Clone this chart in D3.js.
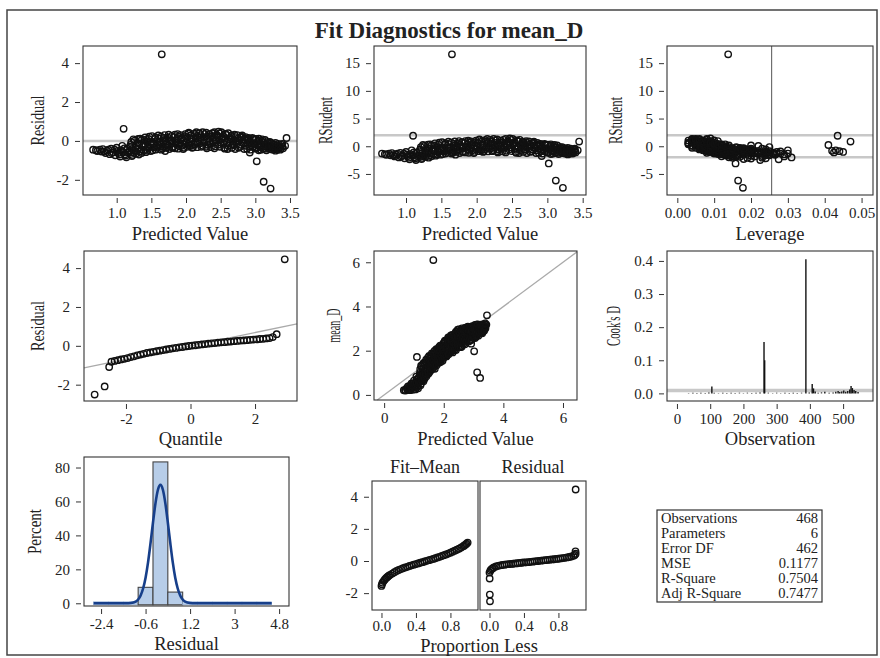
<!DOCTYPE html>
<html>
<head>
<meta charset="utf-8">
<script src="https://cdn.jsdelivr.net/npm/d3@7"></script>
<style>
  body { margin: 0; background: #fff; }
  text { font-family: "Liberation Serif", "DejaVu Serif", serif; fill: #222; }
  .tick text { font-size: 15px; }
  .tick line { stroke: #333; }
</style>
</head>
<body>
<script>
// ---- data ----
// one row per observation: predicted, residual, rstudent, leverage, mean_D
var obsRows = [
  [0.66,-0.45,-1.32,0.0300,0.21],[0.72,-0.52,-1.53,0.0265,0.20],[0.78,-0.55,-1.62,0.0240,0.23],
  [0.80,-0.42,-1.24,0.0180,0.38],[0.84,-0.62,-1.83,0.0290,0.22],[0.86,-0.50,-1.47,0.0150,0.36],
  [0.90,-0.68,-2.01,0.0310,0.22],[0.92,-0.40,-1.18,0.0120,0.52],[0.95,-0.58,-1.71,0.0200,0.37],
  [0.98,-0.74,-2.18,0.0240,0.24],[1.00,-0.35,-1.03,0.0090,0.65],[1.02,-0.62,-1.82,0.0160,0.40],
  [1.05,-0.80,-2.36,0.0275,0.25],[1.06,-0.48,-1.41,0.0110,0.58],[1.08,-0.25,-0.73,0.0070,0.83],
  [1.10,0.62,1.90,0.0435,1.72],[1.12,-0.68,-2.00,0.0140,0.44],[1.14,-0.84,-2.48,0.0225,0.30],
  [1.15,-0.40,-1.17,0.0080,0.75],[1.18,-0.55,-1.62,0.0130,0.63],[1.20,-0.20,-0.58,0.0060,1.00],
  [1.22,-0.78,-2.30,0.0180,0.44],[1.24,0.08,0.23,0.0050,1.32],[1.25,-0.62,-1.82,0.0120,0.63],
  [1.27,-0.35,-1.02,0.0090,0.92],[1.30,-0.10,-0.29,0.0040,1.20],[1.32,-0.70,-2.06,0.0150,0.62],
  [1.34,0.12,0.35,0.0030,1.46],[1.36,-0.45,-1.32,0.0100,0.91],[1.38,-0.22,-0.64,0.0070,1.16],
  [1.40,0.05,0.15,0.0050,1.45],[1.42,-0.58,-1.70,0.0140,0.84],[1.45,-0.30,-0.88,0.0080,1.15],
  [1.47,0.22,0.64,0.0030,1.69],[1.50,-0.12,-0.35,0.0060,1.38],[1.52,-0.48,-1.41,0.0120,1.04],
  [1.55,0.10,0.29,0.0050,1.65],[1.57,-0.25,-0.73,0.0090,1.32],[1.60,0.28,0.82,0.0040,1.88],
  [1.62,-0.05,-0.15,0.0070,1.57],[1.65,4.45,16.60,0.0138,6.10],[1.66,-0.40,-1.17,0.0110,1.26],
  [1.68,0.15,0.44,0.0060,1.83],[1.70,-0.52,-1.52,0.0165,1.18],[1.72,-0.18,-0.53,0.0080,1.54],
  [1.75,0.32,0.94,0.0040,2.07],[1.78,0.02,0.06,0.0100,1.80],[1.80,-0.35,-1.03,0.0130,1.45],
  [1.83,0.20,0.59,0.0070,2.03],[1.85,-0.10,-0.29,0.0050,1.75],[1.88,0.35,1.03,0.0030,2.23],
  [1.90,-0.28,-0.82,0.0120,1.62],[1.93,0.08,0.23,0.0090,2.01],[1.96,-0.42,-1.23,0.0155,1.54],
  [1.98,0.25,0.73,0.0060,2.23],[2.00,-0.05,-0.15,0.0080,1.95],[2.03,0.38,1.11,0.0050,2.41],
  [2.05,-0.22,-0.64,0.0140,1.83],[2.08,0.12,0.35,0.0070,2.20],[2.10,-0.32,-0.94,0.0170,1.78],
  [2.13,0.30,0.88,0.0090,2.43],[2.15,0.45,1.32,0.0080,2.60],[2.17,-0.10,-0.29,0.0110,2.07],
  [2.20,0.18,0.53,0.0060,2.38],[2.22,-0.30,-0.88,0.0190,1.92],[2.25,0.05,0.15,0.0100,2.30],
  [2.27,0.35,1.03,0.0070,2.62],[2.30,-0.38,-1.11,0.0200,1.92],[2.33,0.22,0.64,0.0050,2.55],
  [2.35,-0.15,-0.44,0.0130,2.20],[2.38,0.40,1.17,0.0080,2.78],[2.40,0.00,0.00,0.0100,2.40],
  [2.42,-0.28,-0.82,0.0160,2.14],[2.45,0.28,0.82,0.0060,2.73],[2.47,0.48,1.41,0.0090,2.95],
  [2.50,-0.08,-0.23,0.0120,2.42],[2.52,0.15,0.44,0.0070,2.67],[2.55,-0.35,-1.03,0.0180,2.20],
  [2.57,0.36,1.06,0.0100,2.93],[2.60,-0.42,-1.23,0.0210,2.18],[2.62,0.08,0.23,0.0080,2.70],
  [2.65,0.25,0.73,0.0050,2.90],[2.67,-0.18,-0.53,0.0150,2.49],[2.70,0.32,0.94,0.0110,3.02],
  [2.72,-0.05,-0.15,0.0090,2.67],[2.75,0.12,0.35,0.0130,2.87],[2.78,-0.30,-0.88,0.0170,2.48],
  [2.80,0.22,0.64,0.0100,3.02],[2.83,-0.12,-0.35,0.0140,2.71],[2.85,0.05,0.15,0.0200,2.90],
  [2.88,-0.40,-1.17,0.0245,2.48],[2.90,0.15,0.44,0.0110,3.05],[2.92,-0.60,-1.78,0.0230,2.32],
  [2.94,-0.22,-0.64,0.0160,2.72],[2.97,0.10,0.29,0.0120,3.07],[3.00,-0.35,-1.03,0.0190,2.65],
  [3.02,-1.05,-3.10,0.0158,1.97],[3.04,0.02,0.06,0.0220,3.06],[3.06,-0.28,-0.82,0.0420,2.78],
  [3.08,-0.45,-1.32,0.0260,2.63],[3.10,0.08,0.23,0.0410,3.18],[3.12,-2.10,-6.20,0.0165,1.02],
  [3.13,-0.18,-0.53,0.0180,2.95],[3.15,-0.40,-1.17,0.0210,2.75],[3.18,-0.05,-0.15,0.0250,3.13],
  [3.20,-0.30,-0.88,0.0440,2.90],[3.22,-2.45,-7.50,0.0178,0.77],[3.24,-0.35,-1.03,0.0450,2.89],
  [3.26,-0.15,-0.44,0.0230,3.11],[3.28,-0.35,-1.03,0.0270,2.93],[3.30,-0.25,-0.73,0.0430,3.05],
  [3.32,-0.45,-1.32,0.0220,2.87],[3.35,-0.32,-0.94,0.0280,3.03],[3.38,-0.20,-0.58,0.0240,3.18],
  [3.40,-0.38,-1.11,0.0425,3.02],[3.43,-0.25,-0.73,0.0300,3.18],[3.45,0.15,0.85,0.0470,3.60]
];
// more observations from the dense part of the cloud (same columns)
var obsRowsMore = [
  [0.70,-0.48,-1.41,0.022,0.22],[0.76,-0.45,-1.32,0.020,0.31],[0.82,-0.55,-1.62,0.025,0.27],
  [0.88,-0.45,-1.32,0.017,0.43],[0.93,-0.62,-1.83,0.021,0.31],[0.97,-0.45,-1.32,0.014,0.52],
  [1.01,-0.52,-1.53,0.018,0.49],[1.04,-0.70,-2.06,0.023,0.34],[1.09,-0.58,-1.71,0.016,0.51],
  [1.11,-0.38,-1.12,0.010,0.73],[1.13,-0.75,-2.21,0.020,0.38],[1.16,-0.60,-1.76,0.015,0.56],
  [1.19,-0.30,-0.88,0.009,0.89],
  [1.21,-0.05,-0.15,0.006,1.16],[1.21,-0.60,-1.76,0.015,0.61],[1.23,-0.42,-1.23,0.010,0.81],[1.23,-0.72,-2.11,0.019,0.51],
  [1.26,0.02,0.06,0.004,1.28],[1.26,-0.50,-1.47,0.013,0.76],[1.28,-0.25,-0.73,0.008,1.03],[1.28,-0.65,-1.90,0.017,0.63],
  [1.31,0.10,0.29,0.005,1.41],[1.31,-0.40,-1.17,0.011,0.91],[1.33,-0.15,-0.44,0.007,1.18],[1.33,-0.55,-1.61,0.014,0.78],
  [1.36,0.05,0.15,0.004,1.41],[1.36,-0.62,-1.82,0.016,0.74],[1.39,-0.30,-0.88,0.009,1.09],[1.39,-0.48,-1.41,0.012,0.91],
  [1.41,0.18,0.53,0.003,1.59],[1.41,-0.20,-0.59,0.008,1.21],[1.44,-0.05,-0.15,0.006,1.39],[1.44,-0.50,-1.47,0.013,0.94],
  [1.46,0.10,0.29,0.005,1.56],[1.46,-0.38,-1.11,0.010,1.08],[1.49,-0.20,-0.59,0.008,1.29],[1.49,-0.52,-1.52,0.014,0.97],
  [1.51,0.25,0.73,0.004,1.76],[1.51,-0.05,-0.15,0.007,1.46],[1.54,-0.32,-0.94,0.011,1.22],[1.54,-0.15,-0.44,0.006,1.39],
  [1.56,0.18,0.53,0.005,1.74],[1.56,-0.45,-1.32,0.012,1.11],[1.59,-0.10,-0.29,0.007,1.49],[1.59,-0.35,-1.03,0.010,1.24],
  [1.61,0.12,0.35,0.006,1.73],[1.61,-0.25,-0.73,0.009,1.36],[1.64,0.22,0.64,0.004,1.86],[1.64,-0.45,-1.32,0.013,1.19],
  [1.67,-0.12,-0.35,0.008,1.55],[1.67,-0.30,-0.88,0.011,1.37],[1.69,0.30,0.88,0.004,1.99],[1.69,0.05,0.15,0.006,1.74],
  [1.71,-0.35,-1.03,0.012,1.36],[1.71,-0.02,-0.06,0.007,1.69],[1.74,0.18,0.53,0.005,1.92],[1.74,-0.25,-0.73,0.010,1.49],
  [1.76,-0.42,-1.23,0.014,1.34],[1.76,0.08,0.23,0.006,1.84],[1.79,0.25,0.73,0.005,2.04],[1.79,-0.15,-0.44,0.009,1.64],
  [1.81,-0.05,-0.15,0.007,1.76],[1.81,-0.30,-0.88,0.011,1.51],[1.84,0.32,0.94,0.004,2.16],[1.84,-0.38,-1.11,0.013,1.46],
  [1.87,0.10,0.29,0.006,1.97],[1.87,-0.20,-0.59,0.010,1.67],[1.89,-0.40,-1.17,0.015,1.49],[1.89,0.22,0.64,0.005,2.11],
  [1.92,0.30,0.88,0.004,2.22],[1.92,-0.12,-0.35,0.008,1.80],[1.94,-0.25,-0.73,0.011,1.69],[1.94,0.15,0.44,0.006,2.09],
  [1.97,0.02,0.06,0.007,1.99],[1.97,-0.35,-1.03,0.013,1.62],[1.99,0.35,1.03,0.005,2.34],[1.99,-0.18,-0.53,0.009,1.81],
  [2.02,0.20,0.59,0.006,2.22],[2.02,-0.30,-0.88,0.012,1.72],[2.04,-0.10,-0.29,0.008,1.94],[2.04,0.42,1.23,0.004,2.46],
  [2.07,0.28,0.82,0.005,2.35],[2.07,-0.25,-0.73,0.011,1.82],[2.09,0.05,0.15,0.007,2.14],[2.09,-0.35,-1.03,0.014,1.74],
  [2.12,0.38,1.11,0.004,2.50],[2.12,-0.18,-0.53,0.010,1.94],[2.14,0.15,0.44,0.006,2.29],[2.14,-0.05,-0.15,0.008,2.09],
  [2.16,0.25,0.73,0.005,2.41],[2.16,-0.32,-0.94,0.015,1.84],[2.19,-0.15,-0.44,0.009,2.04],[2.19,0.40,1.17,0.005,2.59],
  [2.21,0.08,0.23,0.007,2.29],[2.21,0.30,0.88,0.006,2.51],[2.24,-0.25,-0.73,0.012,1.99],[2.24,0.45,1.32,0.004,2.69],
  [2.26,0.20,0.59,0.006,2.46],[2.26,-0.08,-0.23,0.009,2.18],[2.29,0.42,1.23,0.005,2.71],[2.29,-0.30,-0.88,0.016,1.99],
  [2.31,0.10,0.29,0.008,2.41],[2.31,-0.20,-0.59,0.012,2.11],[2.34,0.35,1.03,0.005,2.69],[2.34,0.00,0.00,0.009,2.34],
  [2.36,-0.32,-0.94,0.017,2.04],[2.36,0.25,0.73,0.006,2.61],[2.39,0.15,0.44,0.007,2.54],[2.39,-0.10,-0.29,0.011,2.29],
  [2.41,0.45,1.32,0.006,2.86],[2.41,-0.38,-1.11,0.019,2.03],[2.44,0.05,0.15,0.009,2.49],[2.44,0.32,0.94,0.007,2.76],
  [2.46,-0.20,-0.59,0.013,2.26],[2.46,0.20,0.59,0.008,2.66],[2.49,0.38,1.11,0.006,2.87],[2.49,-0.30,-0.88,0.017,2.19],
  [2.51,0.10,0.29,0.008,2.61],[2.51,0.45,1.32,0.005,2.96],[2.54,-0.15,-0.44,0.012,2.39],[2.54,0.25,0.73,0.007,2.79],
  [2.56,0.05,0.15,0.009,2.61],[2.56,-0.40,-1.17,0.020,2.16],[2.59,0.30,0.88,0.007,2.89],[2.59,-0.10,-0.29,0.013,2.49],
  [2.61,-0.25,-0.73,0.015,2.36],[2.61,0.40,1.17,0.006,3.01],[2.64,0.15,0.44,0.009,2.79],[2.64,-0.05,-0.15,0.011,2.59],
  [2.66,-0.35,-1.03,0.018,2.31],[2.66,0.28,0.82,0.008,2.94],[2.69,0.05,0.15,0.010,2.74],[2.69,-0.22,-0.64,0.014,2.47],
  [2.71,0.20,0.59,0.008,2.91],[2.71,-0.42,-1.23,0.021,2.29],[2.74,-0.12,-0.35,0.013,2.62],[2.74,0.30,0.88,0.009,3.04],
  [2.76,0.02,0.06,0.011,2.78],[2.76,-0.35,-1.03,0.019,2.41],[2.79,0.18,0.53,0.009,2.97],[2.79,-0.20,-0.59,0.015,2.59],
  [2.81,-0.08,-0.23,0.012,2.73],[2.81,0.28,0.82,0.008,3.09],[2.84,0.10,0.29,0.010,2.94],[2.84,-0.42,-1.23,0.022,2.42],
  [2.86,-0.25,-0.73,0.016,2.61],[2.86,0.20,0.59,0.009,3.06],[2.89,0.05,0.15,0.012,2.94],[2.89,-0.15,-0.44,0.014,2.74],
  [2.91,-0.30,-0.88,0.019,2.61],[2.91,0.12,0.35,0.010,3.03],[2.93,-0.05,-0.15,0.013,2.88],[2.93,-0.45,-1.32,0.024,2.48],
  [2.96,0.15,0.44,0.010,3.11],[2.96,-0.30,-0.88,0.018,2.66],[2.98,-0.15,-0.44,0.015,2.83],[2.98,0.05,0.15,0.012,3.03],
  [3.01,-0.40,-1.17,0.022,2.61],[3.01,0.10,0.29,0.011,3.11],[3.03,-0.22,-0.64,0.017,2.81],[3.03,-0.05,-0.15,0.014,2.98],
  [3.05,-0.48,-1.41,0.025,2.57],[3.05,0.12,0.35,0.012,3.17],[3.07,-0.12,-0.35,0.015,2.95],[3.07,-0.32,-0.94,0.019,2.75],
  [3.09,-0.25,-0.73,0.018,2.84],[3.09,0.00,0.00,0.013,3.09],[3.11,-0.40,-1.17,0.023,2.71],[3.11,-0.10,-0.29,0.016,3.01],
  [3.14,-0.28,-0.82,0.020,2.86],[3.14,0.05,0.15,0.014,3.19],[3.16,-0.48,-1.41,0.026,2.68],[3.16,-0.15,-0.44,0.017,3.01],
  [3.19,-0.22,-0.64,0.019,2.97],[3.19,-0.35,-1.03,0.021,2.84],[3.21,-0.05,-0.15,0.016,3.16],[3.21,-0.42,-1.23,0.024,2.79],
  [3.23,-0.25,-0.73,0.020,2.98],[3.23,-0.12,-0.35,0.018,3.11],[3.25,-0.45,-1.32,0.027,2.80],[3.25,-0.30,-0.88,0.021,2.95],
  [3.27,-0.20,-0.59,0.019,3.07],[3.27,-0.38,-1.11,0.023,2.89],[3.29,-0.10,-0.29,0.017,3.19],[3.29,-0.50,-1.47,0.029,2.79],
  [3.31,-0.32,-0.94,0.024,2.99],[3.31,-0.22,-0.64,0.020,3.09],[3.33,-0.15,-0.44,0.018,3.18],[3.33,-0.40,-1.17,0.026,2.93],
  [3.36,-0.28,-0.82,0.022,3.08],[3.36,-0.45,-1.32,0.028,2.91],[3.39,-0.30,-0.88,0.025,3.09],[3.39,-0.15,-0.44,0.020,3.24]
];

// normal quantile vs sorted residual
var qqRows = [
  [-2.97,-2.51],[-2.66,-2.09],[-2.52,-1.09],
  [-2.45,-0.82],[-2.35,-0.78],[-2.25,-0.74],[-2.15,-0.70],[-2.05,-0.67],[-1.95,-0.63],
  [-1.85,-0.58],[-1.75,-0.54],[-1.65,-0.49],[-1.55,-0.45],[-1.45,-0.41],[-1.35,-0.37],
  [-1.25,-0.34],[-1.15,-0.31],[-1.05,-0.28],[-0.95,-0.25],[-0.85,-0.22],[-0.75,-0.19],
  [-0.65,-0.16],[-0.55,-0.13],[-0.45,-0.11],[-0.35,-0.08],[-0.25,-0.06],[-0.15,-0.03],
  [-0.05,-0.01],[0.05,0.01],[0.15,0.03],[0.25,0.05],[0.35,0.07],[0.45,0.09],[0.55,0.11],
  [0.65,0.13],[0.75,0.14],[0.85,0.16],[0.95,0.18],[1.05,0.19],[1.15,0.21],[1.25,0.22],
  [1.35,0.24],[1.45,0.25],[1.55,0.27],[1.65,0.28],[1.75,0.29],[1.85,0.31],[1.95,0.32],
  [2.05,0.33],[2.15,0.35],[2.25,0.36],[2.35,0.38],[2.45,0.40],
  [2.55,0.45],[2.67,0.60],[2.92,4.45]
];
var qqLine = [[-3.3,-1.14],[3.3,1.13]];

// Cook's D needles: observation, D
var cookRows = [
  [35,0.001],[48,0.002],[60,0.001],[72,0.002],[85,0.001],[96,0.003],[105,0.021],[112,0.002],
  [125,0.001],[138,0.002],[150,0.001],[163,0.002],[175,0.001],[188,0.002],[200,0.001],
  [212,0.002],[225,0.001],[238,0.002],[250,0.003],[262,0.155],[264,0.100],[275,0.002],
  [288,0.001],[300,0.002],[312,0.001],[325,0.002],[338,0.001],[350,0.002],[362,0.001],
  [375,0.002],[388,0.405],[398,0.003],[407,0.028],[411,0.015],[416,0.006],[425,0.002],
  [435,0.003],[445,0.005],[458,0.002],[470,0.003],[478,0.005],[485,0.007],[490,0.004],
  [496,0.006],[502,0.009],[508,0.005],[514,0.007],[520,0.012],[524,0.022],[528,0.016],
  [533,0.010],[538,0.007],[545,0.004]
];
var cookCutoff = 0.0085;

// residual histogram
var histEdges = [-2.7,-2.1,-1.5,-0.9,-0.3,0.3,0.9,1.5,2.1,2.7,3.3,3.9,4.5];
var histPct = [0.43,0,0.21,9.4,83.3,6.6,0,0,0,0,0,0.21];
var normalCurve = [
  [-2.7,0],[-1.4,0],[-1.2,0.15],[-1.0,1.0],[-0.9,2.2],[-0.8,4.6],[-0.7,8.7],[-0.6,15.1],
  [-0.5,24.1],[-0.4,35.4],[-0.3,47.6],[-0.2,58.9],[-0.1,66.9],[0,69.8],[0.1,66.9],[0.2,58.9],
  [0.3,47.6],[0.4,35.4],[0.5,24.1],[0.6,15.1],[0.7,8.7],[0.8,4.6],[0.9,2.2],[1.0,1.0],
  [1.2,0.15],[1.4,0],[4.5,0]
];

// residual-fit spread: proportion less, value
var fitMeanRows = [
  [0,-1.55],[0.005,-1.45],[0.012,-1.35],[0.025,-1.25],[0.037,-1.16],[0.05,-1.08],[0.062,-1.02],
  [0.075,-0.96],[0.087,-0.91],[0.1,-0.86],
  [0.125,-0.78],[0.15,-0.70],[0.175,-0.62],[0.2,-0.56],[0.225,-0.50],[0.25,-0.45],[0.275,-0.40],
  [0.3,-0.36],[0.325,-0.31],[0.35,-0.27],[0.375,-0.23],[0.4,-0.19],[0.425,-0.15],[0.45,-0.11],
  [0.475,-0.07],[0.5,-0.03],[0.525,0.01],[0.55,0.05],[0.575,0.09],[0.6,0.13],[0.625,0.17],
  [0.65,0.22],[0.675,0.26],[0.7,0.31],[0.725,0.36],[0.75,0.41],[0.775,0.46],[0.8,0.52],
  [0.825,0.58],[0.85,0.64],[0.875,0.70],[0.9,0.77],[0.925,0.84],[0.95,0.92],[0.962,0.97],
  [0.975,1.02],[0.987,1.08],[1.0,1.15]
];
var residSpreadRows = [
  [0.002,-1.09],[0.004,-2.09],[0.006,-2.51],
  [0,-0.72],[0.01,-0.60],[0.02,-0.52],[0.035,-0.46],[0.05,-0.40],[0.075,-0.34],[0.1,-0.30],
  [0.125,-0.27],[0.15,-0.25],[0.175,-0.23],[0.2,-0.21],[0.225,-0.20],[0.25,-0.18],[0.275,-0.17],
  [0.3,-0.15],[0.325,-0.14],[0.35,-0.12],[0.375,-0.11],[0.4,-0.09],[0.425,-0.08],[0.45,-0.07],
  [0.475,-0.05],[0.5,-0.04],[0.525,-0.02],[0.55,-0.01],[0.575,0.01],[0.6,0.02],[0.625,0.04],
  [0.65,0.05],[0.675,0.07],[0.7,0.08],[0.725,0.10],[0.75,0.11],[0.775,0.13],[0.8,0.14],
  [0.825,0.16],[0.85,0.18],[0.875,0.20],[0.9,0.22],[0.925,0.25],[0.95,0.28],[0.975,0.32],
  [0.99,0.38],[1.0,0.45],[0.998,0.60],[1.0,4.45]
];

var statLabels = ["Observations","Parameters","Error DF","MSE","R-Square","Adj R-Square"];
var statValues = ["468","6","462","0.1177","0.7504","0.7477"];

var rstudBand = [-2, 2];
var levCutoff = 0.0256;

// ---- drawing ----
var W = 880, H = 658;
var svg = d3.select("body").append("svg").attr("width", W).attr("height", H);
var allObs = obsRows.concat(obsRowsMore);

svg.append("rect").attr("x", 7).attr("y", 10).attr("width", 870).attr("height", 645)
  .attr("fill", "none").attr("stroke", "#444").attr("stroke-width", 1.5);

svg.append("text").attr("x", 449).attr("y", 38).attr("text-anchor", "middle")
  .style("font-size", "23px").style("font-weight", "bold").text("Fit Diagnostics for mean_D");

function fixed(n) { return function (v) { return v.toFixed(n); }; }
function plain(v) { return String(v); }

function panel(o) {
  var g = svg.append("g");
  var x = d3.scaleLinear().domain(o.xd).range([o.x0, o.x1]);
  var y = d3.scaleLinear().domain(o.yd).range([o.y1, o.y0]);
  g.x = x; g.y = y; g.o = o;
  g.marks = g.append("g");
  if (o.xt) {
    g.append("g").attr("transform", "translate(0," + (o.y1 + 3) + ")")
      .call(d3.axisBottom(x).tickValues(o.xt).tickFormat(o.xf || plain)
        .tickSize(5).tickPadding(o.xpad == null ? 4 : o.xpad).tickSizeOuter(0))
      .call(function (a) { a.select(".domain").remove(); });
  }
  if (o.yt) {
    g.append("g").attr("transform", "translate(" + (o.x0 - 3) + ",0)")
      .call(d3.axisLeft(y).tickValues(o.yt).tickFormat(o.yf || plain).tickSize(5).tickPadding(6).tickSizeOuter(0))
      .call(function (a) { a.select(".domain").remove(); });
  }
  if (o.xlab) {
    g.append("text").attr("x", (o.x0 + o.x1) / 2).attr("y", o.xlabY)
      .attr("text-anchor", "middle").style("font-size", "18.5px").text(o.xlab);
  }
  if (o.ylab) {
    var cy = (o.y0 + o.y1) / 2;
    g.append("text").attr("transform", "translate(" + o.ylabX + "," + cy + ") rotate(-90)")
      .attr("text-anchor", "middle").attr("dy", "0.35em").style("font-size", "19px")
      .attr("textLength", o.ylabLen).attr("lengthAdjust", "spacingAndGlyphs").text(o.ylab);
  }
  return g;
}
function frame(g) {
  var o = g.o;
  g.append("rect").attr("x", o.x0).attr("y", o.y0).attr("width", o.x1 - o.x0).attr("height", o.y1 - o.y0)
    .attr("fill", "none").attr("stroke", "#333").attr("stroke-width", 1.1);
}
function hline(g, v, color, w) {
  g.marks.append("line").attr("x1", g.o.x0).attr("x2", g.o.x1).attr("y1", g.y(v)).attr("y2", g.y(v))
    .attr("stroke", color).attr("stroke-width", w);
}
function dots(g, rows, fx, fy) {
  g.marks.selectAll(null).data(rows).enter().append("circle")
    .attr("cx", function (d) { return g.x(fx(d)); })
    .attr("cy", function (d) { return g.y(fy(d)); })
    .attr("r", 3.2).attr("fill", "none").attr("stroke", "#111").attr("stroke-width", 1.4);
}

// 1. Residual vs Predicted
var p1 = panel({ x0: 83, y0: 46, x1: 297, y1: 195, xd: [0.514, 3.601], yd: [-2.78, 4.88],
  xt: [1, 1.5, 2, 2.5, 3, 3.5], xf: fixed(1), yt: [-2, 0, 2, 4],
  xlab: "Predicted Value", xlabY: 240, ylab: "Residual", ylabX: 37, ylabLen: 50 });
hline(p1, 0, "#c8c8c8", 2.5);
dots(p1, allObs, function (d) { return d[0]; }, function (d) { return d[1]; });
frame(p1);

// 2. RStudent vs Predicted
var p2 = panel({ x0: 374, y0: 46, x1: 586, y1: 195, xd: [0.547, 3.547], yd: [-8.8, 18.1],
  xt: [1, 1.5, 2, 2.5, 3, 3.5], xf: fixed(1), yt: [-5, 0, 5, 10, 15],
  xlab: "Predicted Value", xlabY: 240, ylab: "RStudent", ylabX: 325, ylabLen: 47 });
rstudBand.forEach(function (v) { hline(p2, v, "#c8c8c8", 2.5); });
dots(p2, allObs, function (d) { return d[0]; }, function (d) { return d[2]; });
frame(p2);

// 3. RStudent vs Leverage
var p3 = panel({ x0: 667, y0: 46, x1: 873, y1: 195, xd: [-0.0028, 0.0531], yd: [-8.8, 18.1],
  xt: [0, 0.01, 0.02, 0.03, 0.04, 0.05], xf: fixed(2), yt: [-5, 0, 5, 10, 15],
  xlab: "Leverage", xlabY: 240, ylab: "RStudent", ylabX: 615, ylabLen: 47 });
rstudBand.forEach(function (v) { hline(p3, v, "#c8c8c8", 2.5); });
p3.marks.append("line").attr("x1", p3.x(levCutoff)).attr("x2", p3.x(levCutoff))
  .attr("y1", 46).attr("y2", 195).attr("stroke", "#555").attr("stroke-width", 1);
dots(p3, allObs, function (d) { return d[3]; }, function (d) { return d[2]; });
frame(p3);

// 4. Q-Q plot
var p4 = panel({ x0: 84, y0: 251, x1: 297, y1: 401, xd: [-3.3, 3.3], yd: [-2.84, 4.88],
  xt: [-2, 0, 2], yt: [-2, 0, 2, 4],
  xlab: "Quantile", xlabY: 445, ylab: "Residual", ylabX: 37, ylabLen: 50 });
p4.marks.append("path").datum(qqLine)
  .attr("d", d3.line().x(function (d) { return p4.x(d[0]); }).y(function (d) { return p4.y(d[1]); }))
  .attr("stroke", "#aaa").attr("stroke-width", 1.3).attr("fill", "none");
dots(p4, qqRows, function (d) { return d[0]; }, function (d) { return d[1]; });
frame(p4);

// 5. mean_D vs Predicted
var p5 = panel({ x0: 374, y0: 251, x1: 577, y1: 400, xd: [-0.34, 6.47], yd: [-0.23, 6.51],
  xt: [0, 2, 4, 6], yt: [0, 2, 4, 6],
  xlab: "Predicted Value", xlabY: 445, ylab: "mean_D", ylabX: 333, ylabLen: 34 });
p5.marks.append("line").attr("x1", p5.x(-0.23)).attr("y1", p5.y(-0.23))
  .attr("x2", p5.x(6.47)).attr("y2", p5.y(6.47)).attr("stroke", "#aaa").attr("stroke-width", 1.3);
dots(p5, allObs, function (d) { return d[0]; }, function (d) { return d[4]; });
frame(p5);

// 6. Cook's D
var p6 = panel({ x0: 667, y0: 251, x1: 873, y1: 401, xd: [-30, 590], yd: [-0.023, 0.43],
  xt: [0, 100, 200, 300, 400, 500], yt: [0, 0.1, 0.2, 0.3, 0.4], yf: fixed(1),
  xlab: "Observation", xlabY: 445, ylab: "Cook's D", ylabX: 613, ylabLen: 40 });
hline(p6, cookCutoff, "#c8c8c8", 3.5);
p6.marks.selectAll(null).data(cookRows).enter().append("line")
  .attr("x1", function (d) { return p6.x(d[0]); }).attr("x2", function (d) { return p6.x(d[0]); })
  .attr("y1", p6.y(0)).attr("y2", function (d) { return p6.y(d[1]); })
  .attr("stroke", "#111").attr("stroke-width", 1.4);
frame(p6);

// 7. Residual histogram
var p7 = panel({ x0: 84, y0: 457, x1: 289, y1: 606, xd: [-3.09, 5.2], yd: [-1.6, 86.2],
  xt: [-2.4, -0.6, 1.2, 3, 4.8], yt: [0, 20, 40, 60, 80],
  xlab: "Residual", xlabY: 650, ylab: "Percent", ylabX: 34, ylabLen: 45 });
var bins = histPct.map(function (v, i) { return { lo: histEdges[i], hi: histEdges[i + 1], v: v }; });
p7.marks.selectAll(null).data(bins).enter().append("rect")
  .attr("x", function (d) { return p7.x(d.lo); })
  .attr("width", function (d) { return p7.x(d.hi) - p7.x(d.lo); })
  .attr("y", function (d) { return Math.min(p7.y(d.v), p7.y(0) - 1.5); })
  .attr("height", function (d) { return Math.max(p7.y(0) - p7.y(d.v), 1.5) + 1.5; })
  .attr("fill", "#b7cde8")
  .attr("stroke", function (d) { return d.v > 1 ? "#444" : "#8faad0"; })
  .attr("stroke-width", function (d) { return d.v > 1 ? 1.1 : 0.6; });
p7.marks.append("path").datum(normalCurve)
  .attr("d", d3.line().curve(d3.curveMonotoneX)
    .x(function (d) { return p7.x(d[0]); }).y(function (d) { return p7.y(d[1]); }))
  .attr("fill", "none").attr("stroke", "#173f8a").attr("stroke-width", 2.6);
frame(p7);

// 8. Residual-fit spread
var spreadY = [-3.05, 4.98];
var p8a = panel({ x0: 372, y0: 481, x1: 478, y1: 610, xd: [-0.11, 1.12], yd: spreadY,
  xt: [0, 0.4, 0.8], xf: fixed(1), xpad: 2, yt: [-2, 0, 2, 4] });
dots(p8a, fitMeanRows, function (d) { return d[0]; }, function (d) { return d[1]; });
frame(p8a);
var p8b = panel({ x0: 480, y0: 481, x1: 586, y1: 610, xd: [-0.11, 1.12], yd: spreadY,
  xt: [0, 0.4, 0.8], xf: fixed(1), xpad: 2 });
dots(p8b, residSpreadRows, function (d) { return d[0]; }, function (d) { return d[1]; });
frame(p8b);
svg.append("text").attr("x", 425).attr("y", 473).attr("text-anchor", "middle")
  .style("font-size", "18px").text("Fit\u2013Mean");
svg.append("text").attr("x", 533).attr("y", 473).attr("text-anchor", "middle")
  .style("font-size", "18px").text("Residual");
svg.append("text").attr("x", 479).attr("y", 652).attr("text-anchor", "middle")
  .style("font-size", "18.5px").text("Proportion Less");

// 9. Fit statistics table
var tb = svg.append("g");
tb.append("rect").attr("x", 657).attr("y", 510).attr("width", 165).attr("height", 92)
  .attr("fill", "none").attr("stroke", "#333").attr("stroke-width", 1.2);
var rowY = d3.scalePoint().domain(statLabels).range([523, 598]);
tb.selectAll(null).data(statLabels).enter().append("text")
  .attr("x", 661).attr("y", function (d) { return rowY(d); })
  .style("font-size", "14.5px").text(function (d) { return d; });
tb.selectAll(null).data(statValues).enter().append("text")
  .attr("x", 818).attr("y", function (d, i) { return rowY(statLabels[i]); })
  .attr("text-anchor", "end").style("font-size", "14.5px").text(function (d) { return d; });
</script>
</body>
</html>
